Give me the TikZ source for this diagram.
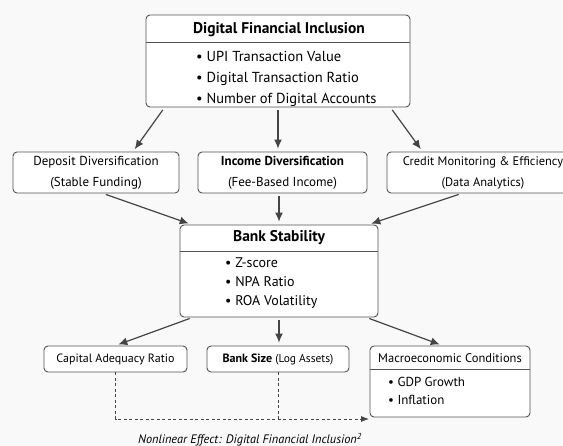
\documentclass[tikz,border=0pt]{standalone}
\usepackage{fontspec}
\setmainfont{PT Sans}
\usetikzlibrary{arrows.meta,positioning,calc}

\definecolor{boxline}{gray}{0.33}
\definecolor{arrowgray}{gray}{0.27}
\definecolor{paper}{gray}{0.975}

\begin{document}
\begin{tikzpicture}[
  x=1pt, y=1pt,
  font=\fontsize{13}{21}\selectfont,
  >=Latex,
  box/.style={draw=boxline, rounded corners=4pt, fill=white, line width=0.9pt, align=center, inner sep=0pt},
  headtxt/.style={font=\fontsize{15.5}{18}\selectfont\bfseries},
  bullets/.style={align=left, inner sep=0pt, anchor=west},
  small box/.style={box, font=\fontsize{12}{15}\selectfont},
  sep/.style={draw=boxline, line width=0.8pt},
  arr/.style={draw=arrowgray, line width=1.2pt, shorten <=3pt, shorten >=3pt, -{Latex[length=9pt,width=8pt]}},
  nlarr/.style={draw=arrowgray, line width=0.8pt, dash pattern=on 3pt off 2.5pt, -{Latex[length=8pt,width=6pt]}}
]
  \useasboundingbox[fill=paper] (0,0) rectangle (563,-446);

  % top block
  \node[box, minimum width=264pt, minimum height=92pt] (dfi) at (278,-61) {};
  \node[headtxt] (dfihead) at (279,-30) {Digital Financial Inclusion};
  \draw[sep] ([yshift=-28pt]dfi.north west) -- ([yshift=-28pt]dfi.north east);
  \node[bullets, font=\fontsize{14.5}{21}\selectfont] (dfilist) at (196,-79) {\textbullet\ UPI Transaction Value\\
    \textbullet\ Digital Transaction Ratio\\ \textbullet\ Number of Digital Accounts};

  % channels
  \node[box, minimum width=166pt, minimum height=41pt] (dep) at (96,-172.5) {Deposit Diversification\\(Stable Funding)};
  \node[box, minimum width=169pt, minimum height=41pt] (inc) at (282.5,-172.5) {\textbf{Income Diversification}\\(Fee-Based Income)};
  \node[box, minimum width=192pt, minimum height=41pt, font=\fontsize{12.4}{21}\selectfont] (cme) at (483,-172.5) {Credit Monitoring \& Efficiency\\(Data Analytics)};

  % bank stability
  \node[box, minimum width=198pt, minimum height=92pt] (bank) at (279,-271) {};
  \node[headtxt] (bankhead) at (279,-238) {Bank Stability};
  \draw[sep] ([yshift=-27pt]bank.north west) -- ([yshift=-27pt]bank.north east);
  \node[bullets, font=\fontsize{14}{19}\selectfont] (banklist) at (225,-283) {\textbullet\ Z-score\\
    \textbullet\ NPA Ratio\\ \textbullet\ ROA Volatility};

  % controls
  \node[small box, minimum width=143pt, minimum height=26pt] (cap) at (115.5,-359) {Capital Adequacy Ratio};
  \node[small box, minimum width=142pt, minimum height=26pt] (size) at (278,-359) {\textbf{Bank Size} {\fontsize{11.5}{14}\selectfont(Log Assets)}};
  \node[box, minimum width=160pt, minimum height=71pt] (macro) at (450,-381.5) {};
  \node[font=\fontsize{12.5}{15}\selectfont] (macrohead) at (450,-358) {Macroeconomic Conditions};
  \draw[sep] ([yshift=-24pt]macro.north west) -- ([yshift=-24pt]macro.north east);
  \node[bullets, font=\fontsize{13}{18}\selectfont] (macrolist) at (388,-391) {\textbullet\ GDP Growth\\
    \textbullet\ Inflation};

  \coordinate (nlend) at (369,-419);
  \node[font=\fontsize{12.3}{14}\selectfont\itshape] (nlnote) at (250,-440) {Nonlinear Effect: Digital Financial Inclusion\textsuperscript{2}};

  % arrows
  \draw[arr] ([xshift=19pt]dfi.south west) -- ([xshift=37pt]dep.north);
  \draw[arr] (dfi.south) -- (dfi.south |- inc.north);
  \draw[arr] ([xshift=-20pt]dfi.south east) -- ([xshift=36pt]cme.north west);

  \draw[arr] ([xshift=7pt]dep.south) -- ([xshift=12pt]bank.north west);
  \draw[arr] (bank.north |- inc.south) -- (bank.north);
  \draw[arr] ([xshift=75pt]cme.south west) -- ([xshift=-10pt]bank.north east);

  \draw[arr] ([xshift=13pt]bank.south west) -- (cap.north);
  \draw[arr] (bank.south) -- (bank.south |- size.north);
  \draw[arr] ([xshift=-12pt]bank.south east) -- ([xshift=73pt]macro.north west);

  \draw[nlarr] (cap.south) -- (cap.south |- nlend) -- (nlend);
  \draw[nlarr, -] (size.south) -- (size.south |- nlend);
\end{tikzpicture}
\end{document}
